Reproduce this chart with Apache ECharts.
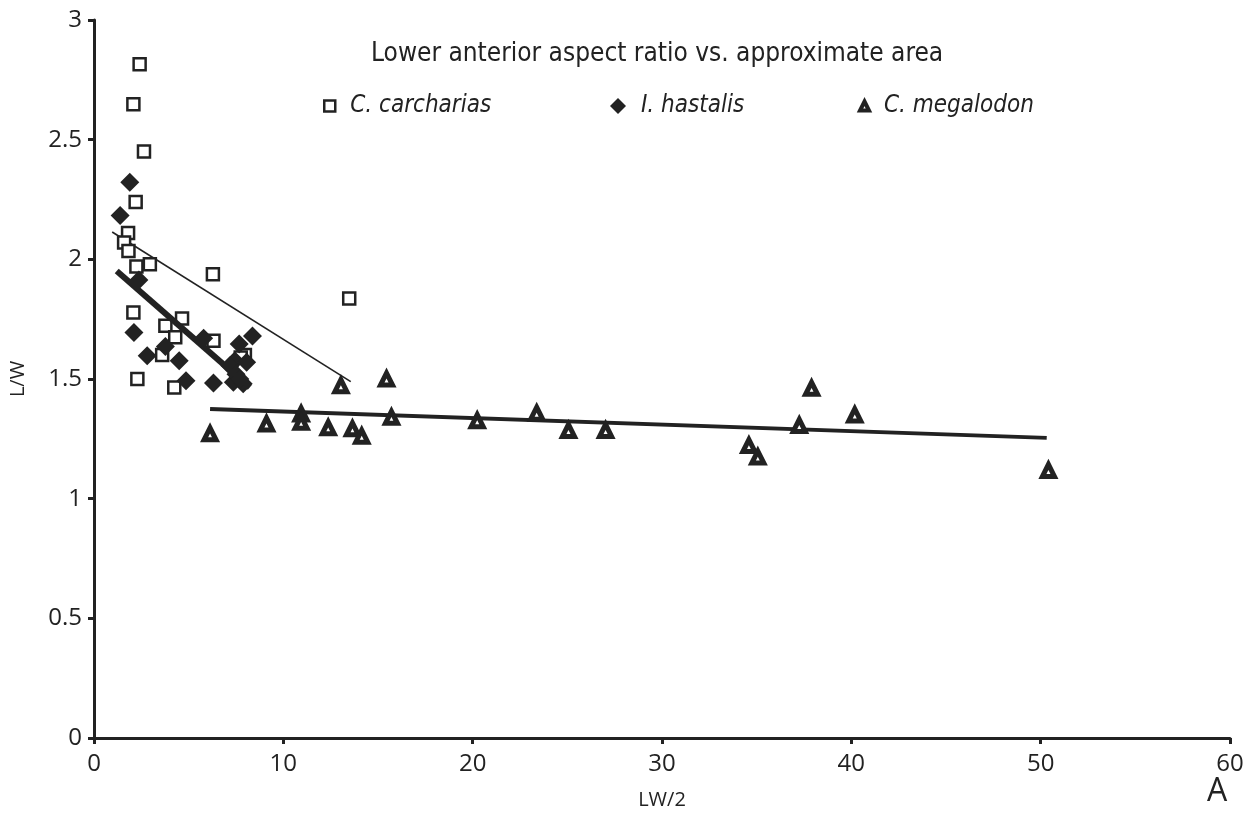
<!DOCTYPE html>
<html>
<head>
<meta charset="utf-8">
<script src="https://cdn.jsdelivr.net/npm/echarts@6/dist/echarts.min.js"></script>
<style>
html,body{margin:0;padding:0;background:#fff;}
#chart{width:1254px;height:815px;}
</style>
</head>
<body>
<div id="chart"></div>
<script>
var titleText = 'Lower anterior aspect ratio vs. approximate area';
var xName = 'LW/2';
var yName = 'L/W';
var seriesNames = ['C. carcharias', 'I. hastalis', 'C. megalodon'];

var carchariasX = [2.41, 2.08, 2.64, 2.20, 1.80, 1.59, 1.82, 2.24, 2.95, 2.08, 3.77, 4.65, 4.29, 3.60, 2.29, 4.24, 6.28, 6.31, 7.97, 7.75, 13.48];
var carchariasY = [2.815, 2.648, 2.451, 2.24, 2.11, 2.07, 2.035, 1.97, 1.979, 1.778, 1.722, 1.753, 1.674, 1.60, 1.50, 1.465, 1.9375, 1.66, 1.60, 1.59, 1.836];

var hastalisX = [1.89, 1.38, 2.37, 2.11, 3.77, 2.81, 4.50, 4.86, 5.79, 6.31, 8.37, 7.67, 7.44, 7.18, 8.06, 7.36, 7.88, 7.50, 7.70];
var hastalisY = [2.322, 2.183, 1.914, 1.694, 1.636, 1.597, 1.576, 1.493, 1.67, 1.483, 1.68, 1.646, 1.576, 1.555, 1.57, 1.486, 1.48, 1.52, 1.50];

var megalodonX = [6.13, 9.11, 10.94, 10.94, 12.37, 13.04, 13.65, 14.14, 15.45, 15.71, 20.24, 23.38, 25.06, 27.02, 34.59, 35.06, 37.25, 37.90, 40.18, 50.41];
var megalodonY = [1.271, 1.3125, 1.354, 1.319, 1.296, 1.472, 1.292, 1.261, 1.50, 1.34, 1.326, 1.357, 1.285, 1.285, 1.222, 1.174, 1.306, 1.461, 1.35, 1.118];

var carchariasTrendX = [0.96, 13.56];
var carchariasTrendY = [2.114, 1.489];
var hastalisTrendX = [1.20, 8.23];
var hastalisTrendY = [1.951, 1.465];
var megalodonTrendX = [6.13, 50.32];
var megalodonTrendY = [1.375, 1.254];

var xTicks = [0, 10, 20, 30, 40, 50, 60];
var yTicks = [0, 0.5, 1, 1.5, 2, 2.5, 3];

function pairs(xs, ys) { return xs.map(function (x, i) { return [x, ys[i]]; }); }

var ink = '#222';
var tickFont = '"Open Sans", "DejaVu Sans", sans-serif';
var narrowFont = '"Liberation Sans Narrow", "DejaVu Sans Condensed", "Open Sans", sans-serif';

var squareStyle = {color: '#fff', borderColor: ink, borderWidth: 2.5, opacity: 1};
var diamondStyle = {color: ink, borderColor: ink, borderWidth: 0, opacity: 1};
var triangleStyle = {color: '#fff', borderColor: ink, borderWidth: 5, opacity: 1};

var chart = echarts.init(document.getElementById('chart'), null, {renderer: 'canvas'});

function legendAt(name, left, style, w, h) {
  return {
    data: [{name: name, itemStyle: style}], left: left, top: 89, itemWidth: w, itemHeight: h,
    textStyle: {fontFamily: narrowFont, fontStyle: 'italic', fontSize: 24, color: ink, padding: [0, 0, 0, 10]},
    selectedMode: false
  };
}

var option = {
  backgroundColor: '#fff',
  animation: false,
  title: {
    text: titleText, left: 366, top: 36,
    textStyle: {fontFamily: narrowFont, fontWeight: 'normal', fontSize: 26, color: ink}
  },
  legend: [
    legendAt(seriesNames[0], 318, squareStyle, 11, 11),
    legendAt(seriesNames[1], 605, diamondStyle, 16, 16),
    legendAt(seriesNames[2], 853, {color: '#fff', borderColor: ink, borderWidth: 4}, 9, 9)
  ],
  grid: {left: 93, right: 24, top: 20, bottom: 75, containLabel: false},
  xAxis: {
    type: 'value', min: xTicks[0], max: xTicks[xTicks.length - 1], interval: 10,
    name: xName, nameLocation: 'middle', nameGap: 52,
    nameTextStyle: {fontFamily: tickFont, fontSize: 20, color: ink},
    axisLine: {lineStyle: {color: ink, width: 3}},
    axisTick: {show: true, length: 6, lineStyle: {color: ink, width: 3}},
    axisLabel: {fontFamily: tickFont, fontSize: 24, color: ink, margin: 14},
    splitLine: {show: false}
  },
  yAxis: {
    type: 'value', min: yTicks[0], max: yTicks[yTicks.length - 1], interval: 0.5,
    name: yName, nameLocation: 'middle', nameGap: 66, nameRotate: 90,
    nameTextStyle: {fontFamily: tickFont, fontSize: 20, color: ink},
    axisLine: {show: true, lineStyle: {color: ink, width: 3}},
    axisTick: {show: true, length: 6, lineStyle: {color: ink, width: 3}},
    axisLabel: {fontFamily: tickFont, fontSize: 24, color: ink, margin: 12},
    splitLine: {show: false}
  },
  graphic: [{
    type: 'text', left: 1207, top: 776,
    style: {text: 'A', font: '32px "Open Sans", "DejaVu Sans", sans-serif', fill: ink}
  }],
  series: [
    {
      name: seriesNames[0], type: 'scatter', symbol: 'rect', symbolSize: 12, z: 3,
      itemStyle: squareStyle,
      data: pairs(carchariasX, carchariasY)
    },
    {
      name: seriesNames[1], type: 'scatter', symbol: 'diamond', symbolSize: 19, z: 4,
      itemStyle: diamondStyle,
      data: pairs(hastalisX, hastalisY)
    },
    {
      name: seriesNames[2], type: 'scatter', symbol: 'triangle', symbolSize: 12, z: 4,
      itemStyle: triangleStyle,
      data: pairs(megalodonX, megalodonY)
    },
    {
      type: 'line', symbol: 'none', silent: true, z: 2,
      lineStyle: {color: ink, width: 1.6},
      data: pairs(carchariasTrendX, carchariasTrendY)
    },
    {
      type: 'line', symbol: 'none', silent: true, z: 5,
      lineStyle: {color: ink, width: 6},
      data: pairs(hastalisTrendX, hastalisTrendY)
    },
    {
      type: 'line', symbol: 'none', silent: true, z: 2,
      lineStyle: {color: ink, width: 4},
      data: pairs(megalodonTrendX, megalodonTrendY)
    }
  ]
};
chart.setOption(option);
</script>
</body>
</html>
